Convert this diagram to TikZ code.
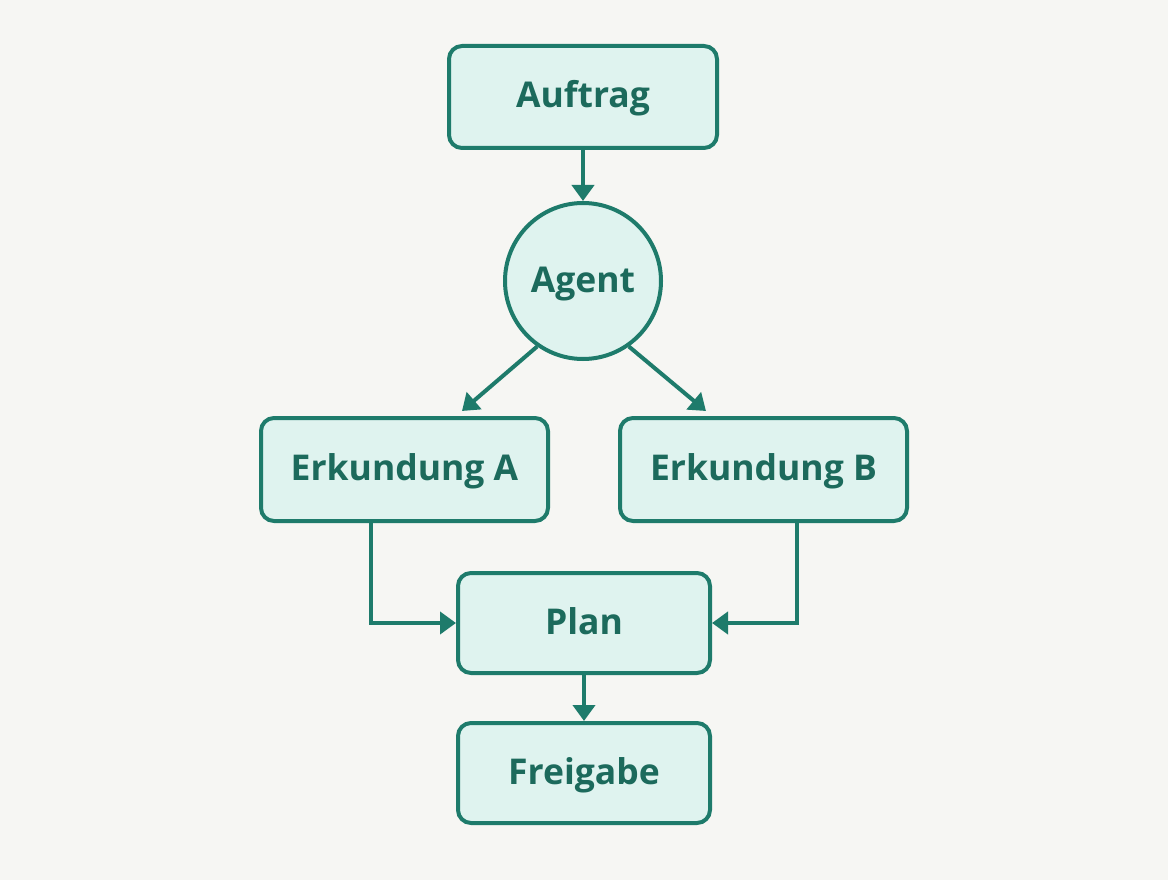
\documentclass[tikz,border=0pt]{standalone}
\usepackage{fontspec}
\setmainfont{Open Sans}
\usetikzlibrary{arrows.meta}
\definecolor{bg}{HTML}{F6F6F3}
\definecolor{st}{HTML}{1E7B6B}
\definecolor{fl}{HTML}{DFF3EF}
\definecolor{tx}{HTML}{1C6A5C}
\begin{document}
\begin{tikzpicture}[x=1pt,y=-1pt,
 txt/.style={font=\fontsize{35.5}{40}\selectfont\bfseries,text=tx,inner sep=0pt,text height=26pt,text depth=4pt},
 box/.style={draw=st,fill=fl,line width=4pt,rounded corners=13pt,minimum width=#1,txt},
 box/.default=252pt,
 arr/.style={draw=st,line width=4pt,-{Triangle[length=16pt,width=22pt]}}]
\fill[bg] (0,0) rectangle (1168,880);
\node[box=268pt,minimum height=102pt] (auf) at (583,97) {Auftrag};
\node[draw=st,fill=fl,line width=4pt,circle,minimum size=156pt,txt] (ag) at (583,281) {Agent};
\node[box=287pt,minimum height=103pt] (ea) at (404.5,469.5) {Erkundung A};
\node[box=287pt,minimum height=103pt] (eb) at (763.5,469.5) {Erkundung B};
\node[box,minimum height=100pt] (pl) at (584,623) {Plan};
\node[box,minimum height=100pt] (fr) at (584,773) {Freigabe};
\draw[arr] (auf.south) -- (ag.north);
\draw[arr] (ag.235) -- (462,411);
\draw[arr] (ag.305) -- (706,411);
\draw[arr] (ea.south -| 371,0) |- (pl.west);
\draw[arr] (eb.south -| 797,0) |- (pl.east);
\draw[arr] (pl.south) -- (fr.north);
\end{tikzpicture}
\end{document}
